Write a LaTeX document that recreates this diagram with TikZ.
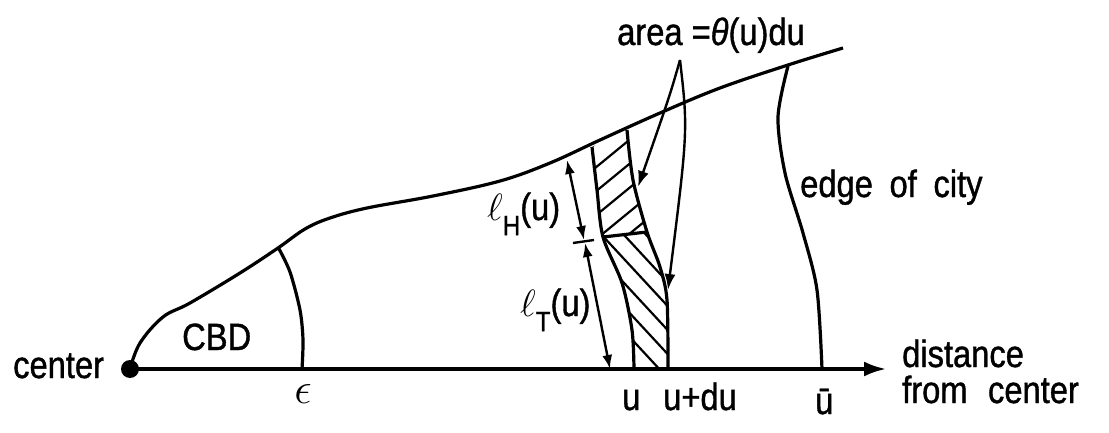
\RequirePackage{fix-cm}
\documentclass[tikz,border=0pt]{standalone}
\usepackage{fontspec}
\setmainfont{Liberation Sans}[FakeStretch=0.86, FakeBold=1]
\usetikzlibrary{arrows.meta}
\begin{document}
\begin{tikzpicture}[x=1pt,y=-1pt,
  line/.style={line width=3.2pt, line join=round},
  thinline/.style={line width=2.4pt},
  hatch/.style={line width=2.2pt},
  lbl/.style={font=\fontsize{38}{40}\selectfont, inner sep=0pt, anchor=base west},
  tip/.style={-{Latex[length=16pt,width=11pt]}},
  dtip/.style={{Latex[length=14pt,width=10pt]}-{Latex[length=14pt,width=10pt]}}]
\useasboundingbox (0,0) rectangle (1109,433);
% coordinates
\coordinate (O) at (130,369);
\coordinate (E) at (886,369);
\coordinate (apex) at (680,60);
\coordinate (a1) at (638,187);
\coordinate (a2) at (668,290);
\coordinate (hTop) at (567,160);
\coordinate (hBot) at (584,240);
\coordinate (tTop) at (585,243);
\coordinate (tBot) at (610,369);
\coordinate (tick1) at (573,243);
\coordinate (tick2) at (594,240);
\coordinate (d1) at (603,237);
\coordinate (d2) at (647,232);
% hatching, upper part
\begin{scope}
  \clip plot[smooth] coordinates {(592,147) (597,190) (603,237)} -- plot[smooth] coordinates {(647,232) (633,180) (627,130)} -- cycle;
  \foreach \c in {140,164,188,212,236,258}
    \draw[hatch] (580,{\c+16.4}) -- (660,{\c-49.2});
\end{scope}
% hatching, lower part
\begin{scope}
  \clip plot[smooth] coordinates {(603,237) (622,283) (632,330) (634,369)} -- plot[smooth] coordinates {(668,369) (667,300) (660,267) (647,232)} -- cycle;
  \foreach \c in {185,209,233,257,281,305}
    \draw[hatch] (590,{\c-10.8}) -- (680,{\c+86.4});
\end{scope}
% axis and centre
\fill (O) circle (9);
\draw[line, -{Latex[length=22pt,width=15pt]}] (O) -- (E);
% city boundary
\draw[line] plot[smooth, tension=0.6] coordinates {(130,369) (140,343) (163,317) (190,303) (240,273) (278,248) (305,229) (330,218) (367,208) (433,196) (500,181) (550,163) (600,140) (660,113) (720,88) (788,65) (843,48)};
% CBD edge
\draw[line] plot[smooth] coordinates {(278,247) (290,272) (300,310) (303,340) (302,369)};
% edge of city
\draw[line] plot[smooth] coordinates {(788,66) (778,117) (785,173) (803,233) (817,290) (822,369)};
% u and u+du
\draw[line] plot[smooth] coordinates {(592,147) (597,190) (603,237) (622,283) (632,330) (634,369)};
\draw[line] plot[smooth] coordinates {(627,130) (633,180) (647,232) (660,267) (667,300) (668,369)};
\draw[line] (d1) -- (d2);
% area arrows
\draw[thinline, tip] (apex) .. controls (670,95) .. (a1);
\draw[thinline, tip] (apex) .. controls (688,130) .. (a2);
% l_H and l_T arrows
\draw[thinline, dtip] (hTop) -- (hBot);
\draw[thinline, dtip] (tTop) -- (tBot);
\draw[thinline] (tick1) -- (tick2);
% labels
\node[lbl] (center) at (13,378) {center};
\node[lbl] (cbd) at (182,350) {CBD};
\node[font=\fontsize{44}{44}\selectfont, inner sep=0pt] (eps) at (303,394) {$\epsilon$};
\node[lbl] (u) at (622,410) {u};
\node[lbl] (udu) at (663,410) {u+du};
\node[lbl] (ubar) at (815,414) {ū};
\node[lbl] (dist) at (902,367) {distance};
\node[lbl] (from) at (902,403) {from\hspace{0.3em} center};
\node[lbl] (edge) at (800,197) {edge\hspace{0.2em} of\hspace{0.2em} city};
\node[lbl] (area) at (617,45) {area =\textit{θ}(u)du};
\node[lbl] (lH) at (487,220) {$\ell$\raisebox{-0.4em}{\fontsize{28}{28}\selectfont H}(u)};
\node[lbl] (lT) at (520,316) {$\ell$\raisebox{-0.4em}{\fontsize{28}{28}\selectfont T}(u)};
\end{tikzpicture}
\end{document}
